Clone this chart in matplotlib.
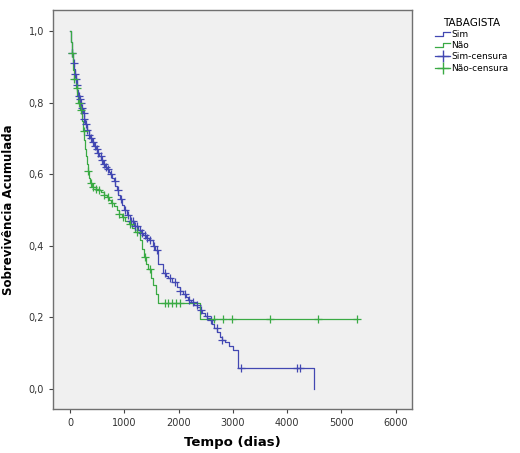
import numpy as np
import matplotlib
matplotlib.use("Agg")
import matplotlib.pyplot as plt
from matplotlib.lines import Line2D
from matplotlib.legend_handler import HandlerBase

# ---- data ----
sim_times = [0, 20, 40, 60, 75, 90, 105, 120, 135, 150, 165, 185, 205, 230, 255, 280,
             310, 340, 370, 400, 435, 470, 500, 530, 565, 600, 640, 680, 710, 740, 770,
             800, 830, 860, 890, 920, 960, 1000, 1050, 1100, 1170, 1250, 1300, 1350,
             1400, 1450, 1520, 1565, 1620, 1710, 1760, 1800, 1880, 1970, 2020, 2080,
             2130, 2175, 2230, 2280, 2340, 2390, 2440, 2480, 2530, 2580, 2620, 2660,
             2710, 2760, 2800, 2850, 2920, 3000, 3100, 4500]
sim_surv = [1.0, 0.97, 0.94, 0.91, 0.895, 0.88, 0.865, 0.85, 0.835, 0.82, 0.81, 0.80,
            0.785, 0.77, 0.755, 0.74, 0.725, 0.71, 0.70, 0.69, 0.68, 0.67, 0.66, 0.65,
            0.64, 0.63, 0.62, 0.615, 0.607, 0.60, 0.59, 0.58, 0.567, 0.555, 0.543,
            0.53, 0.515, 0.50, 0.485, 0.47, 0.455, 0.445, 0.437, 0.43, 0.422, 0.415,
            0.40, 0.388, 0.35, 0.324, 0.317, 0.31, 0.30, 0.285, 0.275, 0.265, 0.257,
            0.249, 0.242, 0.235, 0.228, 0.22, 0.212, 0.205, 0.199, 0.193, 0.182, 0.17,
            0.158, 0.145, 0.138, 0.13, 0.12, 0.109, 0.058, 0.0]

nao_times = [0, 15, 30, 45, 60, 80, 100, 125, 150, 175, 210, 240, 260, 280, 295, 310,
             330, 350, 375, 400, 470, 520, 560, 620, 680, 720, 760, 810, 860, 900, 950,
             1010, 1080, 1140, 1200, 1290, 1330, 1360, 1400, 1440, 1490, 1530, 1580,
             1625, 2400, 5280]
nao_surv = [1.0, 0.97, 0.94, 0.915, 0.89, 0.865, 0.84, 0.82, 0.80, 0.78, 0.75, 0.72,
            0.695, 0.67, 0.65, 0.63, 0.61, 0.59, 0.575, 0.565, 0.56, 0.555, 0.55, 0.543,
            0.537, 0.528, 0.52, 0.51, 0.50, 0.49, 0.48, 0.47, 0.46, 0.45, 0.44, 0.415,
            0.39, 0.37, 0.35, 0.335, 0.31, 0.29, 0.265, 0.24, 0.195, 0.195]

sim_censor = [40, 70, 95, 110, 130, 160, 175, 200, 215, 250, 265, 300, 320, 350, 380,
              420, 450, 490, 520, 560, 590, 630, 660, 700, 760, 820, 880, 940, 1020,
              1060, 1120, 1150, 1200, 1230, 1280, 1320, 1380, 1420, 1480, 1540, 1600,
              1750, 1850, 1930, 2020, 2120, 2200, 2260, 2330, 2420, 2520, 2600, 2700,
              2800, 3150, 4190, 4240]
nao_censor = [30, 80, 120, 160, 200, 250, 330, 380, 420, 480, 540, 620, 700, 780, 900,
              980, 1100, 1230, 1380, 1480, 1750, 1810, 1880, 1960, 2020, 2650, 2820,
              2980, 3680, 4570, 5280]

xticks = [0, 1000, 2000, 3000, 4000, 5000, 6000]
yticks = [0.0, 0.2, 0.4, 0.6, 0.8, 1.0]

blue = "#4248b2"
green = "#3aaa44"


def surv_at(times, surv, t):
    idx = np.searchsorted(np.array(times), t, side="right") - 1
    return np.array(surv)[idx]


fig = plt.figure(figsize=(5.2, 4.53), dpi=100)
ax = fig.add_axes([0.102, 0.097, 0.690, 0.881])
ax.set_facecolor("#f0f0f0")

ax.step(sim_times, sim_surv, where="post", color=blue, lw=0.9)
ax.step(nao_times, nao_surv, where="post", color=green, lw=0.9)
ax.plot(sim_censor, surv_at(sim_times, sim_surv, sim_censor), ls="none",
        marker="+", ms=6, mew=0.9, color=blue)
ax.plot(nao_censor, surv_at(nao_times, nao_surv, nao_censor), ls="none",
        marker="+", ms=6, mew=0.9, color=green)

ax.set_xlim(-315, 6300)
ax.set_ylim(-0.056, 1.059)
ax.set_xticks(xticks)
ax.set_xticklabels([str(v) for v in xticks], fontsize=7, color="#333333")
ax.set_yticks(yticks)
ax.set_yticklabels([f"{v:.1f}".replace(".", ",") for v in yticks], fontsize=7,
                   color="#333333")
ax.tick_params(direction="out", length=3, width=0.8, color="#444444")
for s in ax.spines.values():
    s.set_color("#707070")
    s.set_linewidth(1.0)

ax.set_xlabel("Tempo (dias)", fontsize=9.5, fontweight="bold", labelpad=6)
ax.set_ylabel("Sobrevivência Acumulada", fontsize=8.5, fontweight="bold", labelpad=10)


class StepHandler(HandlerBase):
    def create_artists(self, legend, orig_handle, xdescent, ydescent, width, height,
                       fontsize, trans):
        x0 = -xdescent
        y0 = -ydescent
        xs = [x0, x0 + width * 0.5, x0 + width * 0.5, x0 + width]
        ys = [y0 + height * 0.2, y0 + height * 0.2, y0 + height * 0.8, y0 + height * 0.8]
        ln = Line2D(xs, ys, color=orig_handle.get_color(), lw=0.9, transform=trans)
        return [ln]


h_sim = Line2D([], [], color=blue)
h_nao = Line2D([], [], color=green)
h_simc = Line2D([], [], color=blue, marker="+", ms=8, lw=0.9)
h_naoc = Line2D([], [], color=green, marker="+", ms=8, lw=0.9)
leg = fig.legend([h_sim, h_nao, h_simc, h_naoc],
                 ["Sim", "Não", "Sim-censura", "Não-censura"],
                 handler_map={h_sim: StepHandler(), h_nao: StepHandler()},
                 loc="upper left", bbox_to_anchor=(0.825, 0.975),
                 title="TABAGISTA", title_fontsize=7.5, fontsize=6.5,
                 frameon=False, handlelength=1.6, handletextpad=0.2,
                 labelspacing=0.25, borderpad=0.2)

fig.savefig("out.png", dpi=100, facecolor="white")
